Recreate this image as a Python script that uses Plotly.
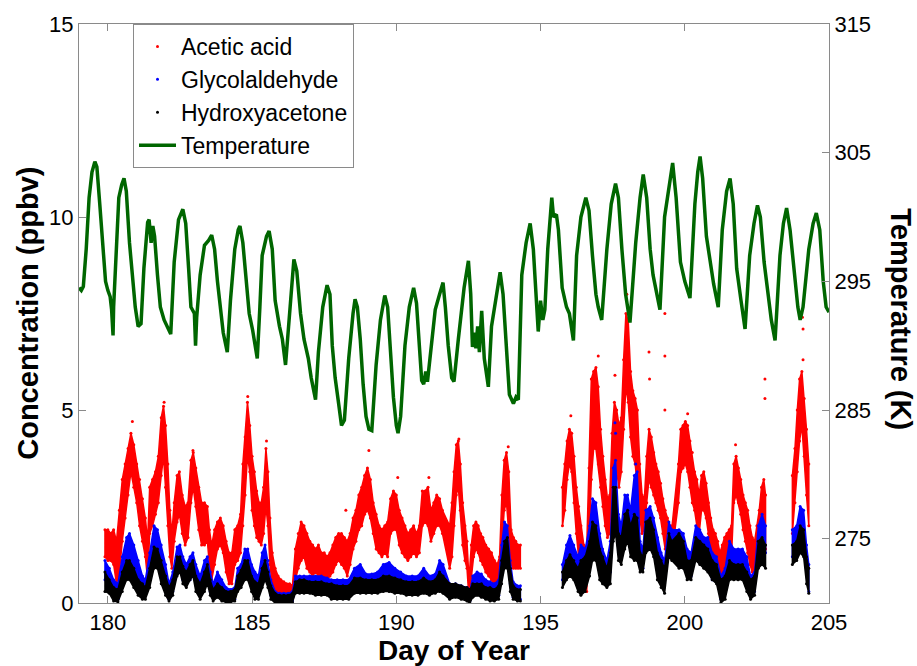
import plotly.graph_objects as go

# ---------------- data ----------------
temp_day = [179.00, 179.08, 179.15, 179.25, 179.35, 179.45, 179.55, 179.62, 179.72, 179.82, 179.92, 180.00,
            180.08, 180.13, 180.18, 180.20, 180.28, 180.38, 180.48, 180.56, 180.64, 180.75, 180.85, 180.95,
            181.05, 181.15, 181.25, 181.38, 181.43, 181.50, 181.56, 181.62, 181.72, 181.82, 181.95, 182.05,
            182.18, 182.30, 182.45, 182.60, 182.70, 182.80, 182.88, 183.00, 183.04, 183.08, 183.20, 183.35,
            183.50, 183.60, 183.70, 183.80, 183.90, 184.00, 184.14, 184.25, 184.40, 184.52, 184.58, 184.68,
            184.78, 184.90, 185.02, 185.18, 185.27, 185.35, 185.50, 185.59, 185.70, 185.80, 185.95, 186.05,
            186.16, 186.30, 186.40, 186.45, 186.55, 186.68, 186.80, 186.95, 187.05, 187.20, 187.30, 187.45,
            187.60, 187.70, 187.78, 187.88, 188.00, 188.10, 188.20, 188.35, 188.50, 188.57, 188.65, 188.75,
            188.85, 188.95, 189.05, 189.15, 189.30, 189.45, 189.60, 189.70, 189.80, 189.90, 190.00, 190.06,
            190.15, 190.30, 190.45, 190.60, 190.70, 190.80, 190.88, 190.95, 191.02, 191.08, 191.20, 191.35,
            191.50, 191.62, 191.70, 191.80, 191.92, 192.00, 192.15, 192.35, 192.50, 192.58, 192.64, 192.70,
            192.76, 192.82, 192.88, 192.96, 193.05, 193.19, 193.30, 193.45, 193.60, 193.70, 193.80, 193.92,
            194.06, 194.15, 194.23, 194.35, 194.50, 194.64, 194.75, 194.85, 194.92, 195.00, 195.08, 195.15,
            195.25, 195.39, 195.45, 195.55, 195.62, 195.75, 195.90, 196.00, 196.14, 196.25, 196.40, 196.57,
            196.68, 196.80, 196.92, 197.00, 197.12, 197.30, 197.45, 197.60, 197.70, 197.82, 197.95, 198.10,
            198.30, 198.45, 198.56, 198.68, 198.80, 198.90, 199.00, 199.14, 199.30, 199.45, 199.58, 199.70,
            199.85, 200.00, 200.18, 200.35, 200.45, 200.53, 200.62, 200.75, 200.90, 201.00, 201.16, 201.30,
            201.45, 201.57, 201.68, 201.80, 201.95, 202.09, 202.25, 202.40, 202.52, 202.62, 202.75, 202.90,
            203.00, 203.13, 203.30, 203.42, 203.53, 203.65, 203.80, 203.92, 204.00, 204.10, 204.30, 204.45,
            204.56, 204.68, 204.80, 204.90, 205.00]
temp_K = [294.5, 294.3, 294.6, 297.5, 301.5, 303.5, 304.3, 303.9, 301.0, 297.5, 295.0, 294.3,
          293.8, 292.8, 290.8, 293.0, 297.5, 301.5, 302.5, 303.0, 302.0, 298.0, 295.5, 293.0,
          291.5, 291.7, 296.0, 299.6, 299.8, 298.0, 299.3, 298.5, 295.5, 293.0, 292.0, 291.5,
          290.9, 296.5, 299.8, 300.6, 299.5, 296.0, 293.0, 292.5, 290.0, 292.2, 295.5, 297.8,
          298.2, 298.6, 297.5, 295.0, 293.0, 291.0, 289.5, 293.5, 297.5, 299.0, 299.3, 298.0,
          295.5, 292.5, 291.2, 289.0, 293.0, 297.0, 298.5, 298.9, 297.5, 293.5, 291.5, 290.5,
          288.5, 292.5, 296.0, 296.7, 295.8, 292.5, 290.5, 289.0, 287.5, 285.8, 289.5, 293.0,
          294.7, 294.0, 290.0, 287.5, 285.5, 283.8, 284.2, 289.0, 292.5, 293.6, 293.0, 290.5,
          287.0, 284.5, 283.5, 283.4, 288.5, 292.0, 293.9, 293.0, 289.5, 286.0, 283.8, 283.2,
          284.5, 290.0, 293.0, 294.5, 293.3, 289.5, 287.3, 287.0, 288.0, 287.2, 289.5, 292.8,
          294.0, 294.9, 293.0, 290.0, 287.5, 287.2, 290.5, 294.5, 296.6, 294.0, 289.9, 291.0,
          289.8, 291.5, 289.5, 292.7, 289.0, 286.8, 291.5, 293.5, 295.7, 294.0, 290.0, 286.2,
          285.5, 286.0, 285.8, 295.5, 298.0, 299.5, 297.5, 293.5, 291.1, 293.5, 292.0, 292.8,
          297.5, 301.5, 300.0, 300.2, 299.0, 294.5, 293.0, 292.5, 290.4, 297.0, 300.0, 301.5,
          300.5, 297.0, 294.0, 293.0, 292.0, 297.5, 301.0, 302.6, 301.5, 297.5, 294.0, 291.8,
          298.0, 301.5, 303.3, 301.5, 297.5, 295.5, 294.5, 292.8, 300.0, 302.5, 304.2, 301.5,
          296.5, 295.0, 293.7, 301.0, 303.5, 304.7, 303.0, 298.5, 296.0, 294.8, 293.0, 299.0,
          302.0, 303.0, 301.0, 296.0, 293.5, 291.3, 297.0, 299.5, 300.9, 300.0, 296.5, 293.5,
          292.0, 290.4, 297.0, 299.5, 300.7, 299.0, 295.5, 293.0, 292.0, 293.0, 297.5, 299.5,
          300.3, 299.0, 295.0, 293.0, 292.6]

# Acetic acid: sampled times with lower / upper edge of the point cloud (ppbv)
aa_day = [179.90, 180.00, 180.10, 180.20, 180.30, 180.40, 180.50, 180.60, 180.70, 180.80, 180.90, 181.00,
          181.10, 181.20, 181.30, 181.38, 181.45, 181.55, 181.65, 181.75, 181.85, 181.93, 182.00, 182.08,
          182.15, 182.22, 182.30, 182.40, 182.48, 182.58, 182.68, 182.78, 182.88, 182.96, 183.05, 183.15,
          183.25, 183.35, 183.45, 183.52, 183.60, 183.70, 183.80, 183.90, 184.00, 184.10, 184.20, 184.30,
          184.40, 184.50, 184.60, 184.68, 184.76, 184.84, 184.92, 185.00, 185.08, 185.16, 185.24, 185.32,
          185.40, 185.48, 185.55, 185.62, 185.70, 185.80, 185.90, 186.00, 186.10, 186.20, 186.30, 186.40,
          186.50, 186.60, 186.70, 186.80, 186.90, 187.00, 187.10, 187.20, 187.30, 187.40, 187.50, 187.60,
          187.70, 187.80, 187.90, 188.00, 188.10, 188.20, 188.30, 188.40, 188.50, 188.60, 188.70, 188.80,
          188.90, 189.00, 189.10, 189.20, 189.30, 189.40, 189.50, 189.60, 189.70, 189.80, 189.90, 190.00,
          190.10, 190.20, 190.30, 190.40, 190.50, 190.60, 190.70, 190.80, 190.90, 191.00, 191.10, 191.20,
          191.30, 191.40, 191.50, 191.60,
          191.85, 191.93, 192.00, 192.08, 192.15, 192.22, 192.30, 192.38, 192.45, 192.52, 192.60, 192.68,
          192.76, 192.84, 192.92, 193.00, 193.10, 193.20, 193.30, 193.40, 193.50, 193.58, 193.66, 193.74,
          193.82, 193.90, 193.98, 194.06, 194.14, 194.22, 194.30,
          195.76, 195.84, 195.92, 196.00, 196.08, 196.16, 196.24, 196.32, 196.40, 196.50, 196.60, 196.68,
          196.76, 196.84, 196.92, 197.00, 197.08, 197.16, 197.24, 197.32, 197.40, 197.48, 197.56, 197.64,
          197.72, 197.80, 197.88, 197.96, 198.04, 198.12, 198.20, 198.28, 198.36, 198.44, 198.52, 198.60,
          198.68, 198.76, 198.84, 198.92, 199.00, 199.08, 199.16, 199.24, 199.32, 199.40, 199.48, 199.56,
          199.78, 199.86, 199.94, 200.02, 200.10, 200.18, 200.26, 200.34, 200.42, 200.50, 200.58, 200.66,
          200.74, 200.82, 200.90, 200.98, 201.06, 201.14, 201.22, 201.30, 201.38, 201.46, 201.54, 201.62,
          201.70, 201.78, 201.86, 201.94, 202.02, 202.10, 202.18, 202.26, 202.34, 202.42, 202.50, 202.58,
          202.66, 202.74, 202.80,
          203.73, 203.82, 203.90, 203.98, 204.06, 204.14, 204.22, 204.30]
aa_lo = [1.2, 1.1, 1.1, 1.0, 0.5, 0.8, 1.6, 2.2, 2.8, 3.4, 3.0, 2.6,
         2.0, 1.6, 1.2, 0.6, 1.8, 2.0, 2.3, 2.6, 3.3, 3.8, 3.0, 2.0,
         1.2, 0.9, 1.6, 2.1, 2.3, 1.8, 1.5, 1.7, 2.6, 3.0, 2.5, 1.9,
         1.5, 1.5, 1.6, 1.0, 0.6, 1.0, 1.4, 1.5, 1.3, 0.8, 0.5, 0.5,
         1.0, 1.1, 1.3, 2.0, 2.8, 3.8, 3.4, 2.4, 2.0, 1.7, 1.6, 1.5,
         1.8, 2.5, 2.0, 1.0, 0.5, 0.3, 0.2, 0.15, 0.1, 0.1, 0.1, 0.1,
         0.6, 0.9, 1.1, 1.2, 0.9, 0.8, 0.7, 0.8, 0.7, 0.6, 0.6, 0.6,
         0.7, 0.8, 1.0, 1.1, 1.0, 0.9, 0.7, 1.0, 1.4, 1.6, 1.9, 2.0,
         2.3, 2.4, 2.2, 1.8, 1.4, 1.3, 1.2, 1.3, 1.2, 1.8, 1.9, 1.9,
         1.5, 1.3, 1.2, 1.1, 1.2, 1.3, 1.2, 1.3, 2.0, 2.1, 2.0, 1.6,
         1.8, 2.0, 2.0, 1.8,
         0.9, 1.2, 2.0, 2.8, 3.0, 2.4, 1.5, 1.1, 0.9, 0.1, 0.7, 1.2,
         1.4, 1.3, 1.1, 1.0, 0.8, 0.7, 0.6, 0.4, 0.5, 0.6, 1.6, 2.4,
         2.6, 1.8, 1.0, 0.9, 0.9, 0.9, 0.9,
         2.0, 2.4, 3.2, 3.6, 3.4, 2.6, 1.8, 1.2, 0.7, 0.4, 0.3, 1.5,
         3.2, 4.0, 4.0, 3.6, 3.0, 2.5, 2.0, 1.7, 1.8, 2.6, 3.5, 3.4,
         3.0, 3.4, 4.5, 5.6, 5.2, 4.3, 3.8, 3.6, 3.0, 2.2, 1.8, 1.9,
         2.6, 3.2, 3.0, 2.8, 2.6, 2.4, 2.2, 1.8, 1.4, 1.3, 1.2, 1.3,
         2.6, 3.4, 3.5, 3.6, 3.4, 3.0, 2.6, 2.4, 2.0, 1.8, 2.4, 2.4,
         2.2, 1.8, 1.2, 1.0, 0.8, 0.6, 0.4, 0.6, 0.9, 1.0, 1.1, 1.2,
         2.6, 2.8, 2.6, 2.3, 1.9, 1.6, 1.3, 1.0, 0.8, 0.7, 1.0, 1.2,
         1.4, 1.5, 1.4,
         1.8, 2.6, 3.4, 4.2, 4.6, 3.8, 2.8, 2.0]
aa_hi = [1.9, 1.9, 1.8, 1.9, 1.6, 2.4, 3.2, 3.6, 4.0, 4.4, 4.1, 3.6,
         3.2, 2.7, 2.2, 1.6, 3.0, 3.2, 3.4, 3.8, 4.8, 5.1, 4.6, 3.6,
         2.4, 1.8, 2.6, 3.3, 3.4, 2.8, 2.5, 2.6, 3.7, 3.9, 3.5, 3.0,
         2.6, 2.6, 2.5, 1.9, 1.5, 1.9, 2.1, 2.2, 2.0, 1.6, 1.3, 1.3,
         1.9, 2.0, 2.3, 3.6, 4.3, 5.2, 4.6, 3.8, 3.4, 2.9, 2.6, 2.6,
         3.0, 4.0, 3.4, 2.2, 1.3, 0.9, 0.7, 0.6, 0.55, 0.5, 0.5, 0.45,
         1.4, 1.8, 2.1, 2.0, 1.8, 1.6, 1.5, 1.4, 1.5, 1.3, 1.3, 1.2,
         1.3, 1.5, 1.7, 1.8, 1.8, 1.7, 1.6, 1.8, 2.2, 2.4, 2.8, 3.0,
         3.3, 3.5, 3.2, 2.6, 2.3, 2.0, 1.9, 2.0, 2.1, 2.7, 2.9, 2.8,
         2.4, 2.2, 2.0, 1.8, 1.9, 2.0, 1.8, 2.0, 2.9, 2.9, 3.0, 2.4,
         2.6, 2.8, 2.7, 2.4,
         2.0, 2.6, 3.4, 4.1, 4.2, 3.6, 2.6, 2.0, 1.6, 0.6, 1.5, 2.0,
         2.1, 2.0, 1.8, 1.7, 1.5, 1.4, 1.3, 1.1, 1.0, 1.2, 2.8, 3.7,
         3.9, 3.4, 1.9, 1.7, 1.6, 1.5, 1.5,
         3.0, 3.6, 4.2, 4.5, 4.4, 3.8, 3.0, 2.5, 2.0, 1.5, 1.4, 3.5,
         5.8, 6.0, 6.1, 5.6, 4.5, 3.8, 3.2, 2.7, 2.8, 4.4, 5.2, 5.0,
         4.6, 4.8, 6.3, 7.5, 7.3, 6.0, 5.5, 5.3, 5.0, 3.6, 2.8, 2.7,
         3.8, 4.5, 4.3, 3.9, 3.6, 3.4, 3.1, 2.7, 2.4, 2.2, 2.0, 2.0,
         3.6, 4.5, 4.6, 4.7, 4.6, 4.2, 3.9, 3.4, 3.2, 2.8, 3.3, 3.4,
         3.1, 2.6, 2.2, 1.9, 1.8, 1.6, 1.3, 1.5, 1.7, 1.8, 1.9, 2.0,
         3.6, 3.8, 3.5, 3.2, 2.8, 2.6, 2.4, 2.0, 1.7, 1.6, 2.0, 2.4,
         3.0, 3.2, 2.8,
         3.3, 4.0, 5.0, 5.8, 6.0, 5.3, 4.5, 3.6]
aa_out_day = [180.85, 181.95, 182.95, 184.85, 185.50, 188.25, 189.05, 190.05, 191.13, 192.17, 193.88,
              196.05, 197.00, 197.58, 197.99, 198.76, 198.78, 199.31, 199.31, 199.31, 200.10, 201.76,
              202.78, 202.78, 204.08, 204.10, 204.10]
aa_out_val = [4.7, 5.2, 3.95, 5.35, 4.2, 2.4, 3.95, 3.25, 3.25, 4.25, 4.05,
              4.85, 6.4, 5.9, 8.0, 6.5, 5.8, 7.5, 6.4, 5.0, 4.9, 4.1,
              5.8, 5.3, 7.4, 7.1, 6.3]

# Glycolaldehyde
ga_day = [179.90, 180.05, 180.20, 180.35, 180.50, 180.65, 180.75, 180.90, 181.05, 181.20, 181.30, 181.45,
          181.60, 181.72, 181.85, 182.00, 182.12, 182.25, 182.40, 182.50, 182.60, 182.72, 182.85, 182.95,
          183.05, 183.20, 183.35, 183.45, 183.55, 183.65, 183.80, 183.95, 184.10, 184.25, 184.40, 184.50,
          184.62, 184.75, 184.85, 184.98, 185.10, 185.22, 185.35, 185.45, 185.55, 185.65, 185.80, 185.95,
          186.10, 186.25, 186.40, 186.50, 186.65, 186.80, 187.00, 187.20, 187.40, 187.60, 187.75, 187.95,
          188.15, 188.35, 188.55, 188.75, 188.95, 189.15, 189.35, 189.55, 189.75, 189.95, 190.15, 190.35,
          190.55, 190.75, 190.95, 191.15, 191.35, 191.50, 191.62,
          191.85, 192.05, 192.25, 192.45, 192.55, 192.65, 192.80, 192.95, 193.10, 193.25, 193.40, 193.55,
          193.65, 193.75, 193.85, 193.95, 194.05, 194.20, 194.30,
          195.76, 195.90, 196.02, 196.15, 196.30, 196.40, 196.55, 196.70, 196.80, 196.92, 197.05, 197.15,
          197.30, 197.42, 197.52, 197.60, 197.70, 197.80, 197.92, 198.02, 198.12, 198.25, 198.35, 198.45,
          198.55, 198.65, 198.80, 198.92, 199.05, 199.18, 199.30, 199.45, 199.55,
          199.80, 199.95, 200.08, 200.22, 200.38, 200.52, 200.66, 200.80, 200.95, 201.10, 201.25, 201.40,
          201.55, 201.70, 201.85, 202.00, 202.15, 202.28, 202.42, 202.55, 202.68, 202.80,
          203.73, 203.88, 204.00, 204.12, 204.22, 204.30]
ga_lo = [0.6, 0.4, 0.2, 0.1, 0.5, 1.0, 1.1, 0.9, 0.5, 0.3, 0.2, 0.7,
         1.3, 1.2, 0.8, 0.4, 0.1, 0.3, 0.8, 0.9, 0.6, 0.5, 0.6, 0.8,
         0.5, 0.2, 0.5, 0.6, 0.3, 0.2, 0.4, 0.2, 0.1, 0.05, 0.1, 0.4,
         0.5, 0.8, 0.9, 0.5, 0.3, 0.3, 0.7, 0.9, 0.6, 0.2, 0.05, 0.02,
         0.02, 0.02, 0.05, 0.3, 0.4, 0.4, 0.35, 0.35, 0.35, 0.3, 0.2, 0.2,
         0.2, 0.25, 0.5, 0.5, 0.4, 0.4, 0.45, 0.55, 0.6, 0.5, 0.4, 0.35,
         0.3, 0.35, 0.5, 0.35, 0.4, 0.6, 0.5,
         0.15, 0.2, 0.15, 0.1, 0.05, 0.4, 0.45, 0.4, 0.3, 0.2, 0.15, 0.2,
         0.9, 1.4, 1.2, 0.5, 0.15, 0.1, 0.1,
         0.6, 0.9, 1.2, 0.9, 0.6, 0.8, 0.7, 1.0, 1.5, 1.5, 0.9, 0.7,
         0.5, 0.8, 2.0, 2.3, 1.3, 1.2, 1.8, 1.9, 1.6, 2.0, 2.1, 1.0,
         0.9, 1.6, 1.7, 1.5, 1.0, 0.6, 0.5, 1.4, 1.3,
         1.1, 1.0, 0.8, 0.7, 1.3, 1.2, 1.0, 0.9, 0.6, 0.6, 0.1, 0.4,
         1.0, 0.9, 0.9, 0.9, 0.6, 0.2, 0.3, 1.2, 1.5, 1.3,
         1.2, 1.3, 1.6, 1.5, 0.8, 0.3]
ga_hi = [1.1, 0.9, 0.6, 0.5, 1.2, 1.7, 1.8, 1.5, 1.1, 0.7, 0.6, 1.3,
         2.0, 1.9, 1.5, 1.0, 0.5, 0.8, 1.45, 1.5, 1.2, 1.0, 1.2, 1.3,
         1.0, 0.7, 1.1, 1.2, 0.8, 0.5, 0.8, 0.6, 0.4, 0.35, 0.4, 0.9,
         1.0, 1.4, 1.4, 1.0, 0.8, 0.7, 1.3, 1.5, 1.1, 0.6, 0.3, 0.25,
         0.25, 0.25, 0.3, 0.7, 0.7, 0.7, 0.7, 0.7, 0.7, 0.65, 0.6, 0.6,
         0.6, 0.6, 0.9, 1.0, 0.75, 0.75, 0.8, 1.0, 1.05, 0.9, 0.8, 0.7,
         0.7, 0.7, 0.9, 0.7, 0.75, 1.1, 1.0,
         0.5, 0.5, 0.45, 0.4, 0.3, 0.7, 0.8, 0.75, 0.6, 0.55, 0.5, 0.6,
         1.5, 2.1, 2.0, 1.1, 0.55, 0.45, 0.45,
         1.0, 1.5, 1.75, 1.5, 1.2, 1.5, 1.4, 2.0, 2.7, 2.6, 1.8, 1.4,
         1.1, 1.6, 3.5, 3.7, 2.3, 2.0, 2.8, 2.8, 2.4, 3.3, 3.4, 1.6,
         1.4, 2.4, 2.5, 2.2, 1.7, 1.3, 1.1, 2.1, 1.9,
         1.9, 1.8, 1.4, 1.3, 2.0, 1.9, 1.7, 1.7, 1.3, 1.2, 0.7, 0.9,
         1.6, 1.4, 1.4, 1.4, 1.2, 0.7, 0.8, 2.0, 2.3, 2.0,
         1.9, 2.0, 2.5, 2.4, 1.5, 1.0]
ga_out_day = [197.58, 197.60, 198.30]
ga_out_val = [4.67, 4.4, 3.6]

# Hydroxyacetone
ha_day = ga_day
ha_lo = [0.3, 0.25, 0.05, 0.03, 0.3, 0.6, 0.6, 0.4, 0.2, 0.1, 0.1, 0.4,
         0.9, 0.9, 0.5, 0.2, 0.05, 0.2, 0.7, 0.8, 0.5, 0.4, 0.6, 0.7,
         0.3, 0.1, 0.3, 0.5, 0.2, 0.05, 0.15, 0.05, 0.02, 0.02, 0.05, 0.3,
         0.4, 0.6, 0.6, 0.3, 0.1, 0.1, 0.4, 0.6, 0.4, 0.1, 0.0, 0.0,
         0.0, 0.0, 0.02, 0.25, 0.25, 0.25, 0.25, 0.2, 0.2, 0.2, 0.1, 0.1,
         0.1, 0.1, 0.25, 0.25, 0.25, 0.25, 0.25, 0.3, 0.3, 0.25, 0.25, 0.2,
         0.2, 0.2, 0.25, 0.2, 0.25, 0.3, 0.25,
         0.1, 0.15, 0.1, 0.05, 0.0, 0.15, 0.2, 0.15, 0.1, 0.05, 0.05, 0.1,
         0.5, 0.9, 0.9, 0.3, 0.1, 0.05, 0.05,
         0.4, 0.6, 0.7, 0.6, 0.3, 0.2, 0.3, 0.7, 1.1, 1.1, 0.6, 0.5,
         0.4, 0.5, 1.6, 1.8, 1.1, 1.0, 1.4, 1.6, 1.2, 1.1, 1.1, 0.8,
         0.8, 1.3, 1.4, 1.2, 0.6, 0.4, 0.25, 1.2, 1.1,
         0.9, 0.9, 0.6, 0.6, 1.1, 1.0, 0.9, 0.8, 0.6, 0.5, 0.0, 0.1,
         0.6, 0.6, 0.6, 0.6, 0.3, 0.1, 0.2, 0.9, 1.0, 0.9,
         1.0, 1.1, 1.3, 1.2, 0.5, 0.25]
ha_hi = [0.8, 0.6, 0.4, 0.35, 0.8, 1.1, 1.1, 0.9, 0.6, 0.5, 0.4, 0.9,
         1.45, 1.4, 1.1, 0.7, 0.4, 0.6, 1.2, 1.2, 0.95, 0.8, 1.0, 1.1,
         0.7, 0.5, 0.8, 1.0, 0.6, 0.35, 0.5, 0.4, 0.3, 0.3, 0.35, 0.7,
         0.85, 1.1, 1.1, 0.7, 0.55, 0.5, 0.9, 1.1, 0.8, 0.45, 0.25, 0.2,
         0.2, 0.2, 0.25, 0.55, 0.6, 0.6, 0.55, 0.55, 0.55, 0.5, 0.5, 0.45,
         0.45, 0.45, 0.65, 0.65, 0.6, 0.6, 0.6, 0.7, 0.7, 0.65, 0.6, 0.55,
         0.55, 0.55, 0.65, 0.55, 0.6, 0.8, 0.7,
         0.5, 0.5, 0.45, 0.4, 0.35, 0.5, 0.5, 0.5, 0.4, 0.4, 0.35, 0.45,
         1.1, 1.6, 1.7, 0.9, 0.45, 0.35, 0.35,
         0.8, 1.1, 1.25, 1.1, 0.9, 1.1, 1.2, 1.6, 2.1, 2.0, 1.4, 1.2,
         0.9, 1.3, 3.0, 3.0, 1.8, 1.7, 2.3, 2.4, 2.0, 2.3, 2.2, 1.3,
         1.2, 2.1, 2.2, 1.9, 1.3, 1.1, 0.9, 1.8, 1.6,
         1.8, 1.6, 1.1, 1.1, 1.7, 1.6, 1.5, 1.4, 1.1, 1.0, 0.6, 0.7,
         1.1, 1.0, 1.0, 1.0, 0.8, 0.6, 0.7, 1.6, 1.7, 1.5,
         1.5, 1.6, 2.0, 1.9, 1.2, 0.9]

x_ticks = [180, 185, 190, 195, 200, 205]
left_ticks = [0, 5, 10, 15]
right_ticks = [275, 285, 295, 305, 315]

FONT = "Liberation Sans, Arial, sans-serif"


def segments(day, lo, hi, gap=0.5):
    """split sampled series where the time step exceeds `gap` days"""
    segs, cur = [], [0]
    for i in range(1, len(day)):
        if day[i] - day[i - 1] > gap:
            segs.append(cur)
            cur = []
        cur.append(i)
    segs.append(cur)
    xs, ys = [], []
    for s in segs:
        d = [day[i] for i in s]
        l = [lo[i] for i in s]
        h = [hi[i] for i in s]
        xs += d + d[::-1] + [d[0], None]
        ys += h + l[::-1] + [h[0], None]
    return xs, ys


fig = go.Figure()

series = [
    ("Acetic acid", aa_day, aa_lo, aa_hi, aa_out_day, aa_out_val, "#ff0000"),
    ("Glycolaldehyde", ga_day, ga_lo, ga_hi, ga_out_day, ga_out_val, "#0000ff"),
    ("Hydroxyacetone", ha_day, ha_lo, ha_hi, [], [], "#000000"),
]
for name, d, lo, hi, od, ov, col in series:
    bx, by = segments(d, lo, hi)
    fig.add_trace(go.Scatter(x=bx, y=by, mode="lines", fill="toself", fillcolor=col,
                             line=dict(color=col, width=1.5), showlegend=False,
                             hoverinfo="skip", yaxis="y"))
    fig.add_trace(go.Scatter(x=list(d) + list(d) + list(od), y=list(lo) + list(hi) + list(ov),
                             mode="markers", name=name,
                             marker=dict(color=col, size=3, line=dict(width=0)), yaxis="y"))

fig.add_trace(go.Scatter(x=temp_day, y=temp_K, mode="lines", name="Temperature",
                         line=dict(color="#006600", width=3.5), yaxis="y2"))

axis_common = dict(showgrid=False, zeroline=False, showline=True, linecolor="#8a8a8a",
                   linewidth=1, ticks="inside", ticklen=7, tickcolor="#8a8a8a",
                   tickfont=dict(family=FONT, size=22, color="black"))

fig.update_layout(
    width=917, height=666,
    margin=dict(l=79, r=88, t=22, b=63),
    paper_bgcolor="white", plot_bgcolor="white",
    font=dict(family=FONT, color="black"),
    xaxis=dict(range=[179, 205], tickvals=x_ticks, mirror="ticks", **axis_common),
    yaxis=dict(range=[0, 15], tickvals=left_ticks, mirror=False, **axis_common),
    yaxis2=dict(range=[270, 315], tickvals=right_ticks, overlaying="y", side="right",
                **axis_common),
    legend=dict(x=0.072, y=1.0, xanchor="left", yanchor="top",
                bgcolor="white", bordercolor="#8a8a8a", borderwidth=1,
                font=dict(family=FONT, size=23, color="black"),
                itemwidth=37, tracegroupgap=0),
    showlegend=True,
    annotations=[
        dict(text="<b>Concentration (ppbv)</b>", xref="paper", yref="paper", x=-0.069, y=0.5,
             xanchor="center", yanchor="middle", textangle=-90, showarrow=False,
             font=dict(family=FONT, size=29, color="black")),
        dict(text="<b>Temperature (K)</b>", xref="paper", yref="paper", x=1.096, y=0.49,
             xanchor="center", yanchor="middle", textangle=90, showarrow=False,
             font=dict(family=FONT, size=29, color="black")),
        dict(text="<b>Day of Year</b>", xref="paper", yref="paper", x=0.5, y=-0.082,
             xanchor="center", yanchor="middle", showarrow=False,
             font=dict(family=FONT, size=28, color="black")),
    ],
)

fig.write_html("out.html")
